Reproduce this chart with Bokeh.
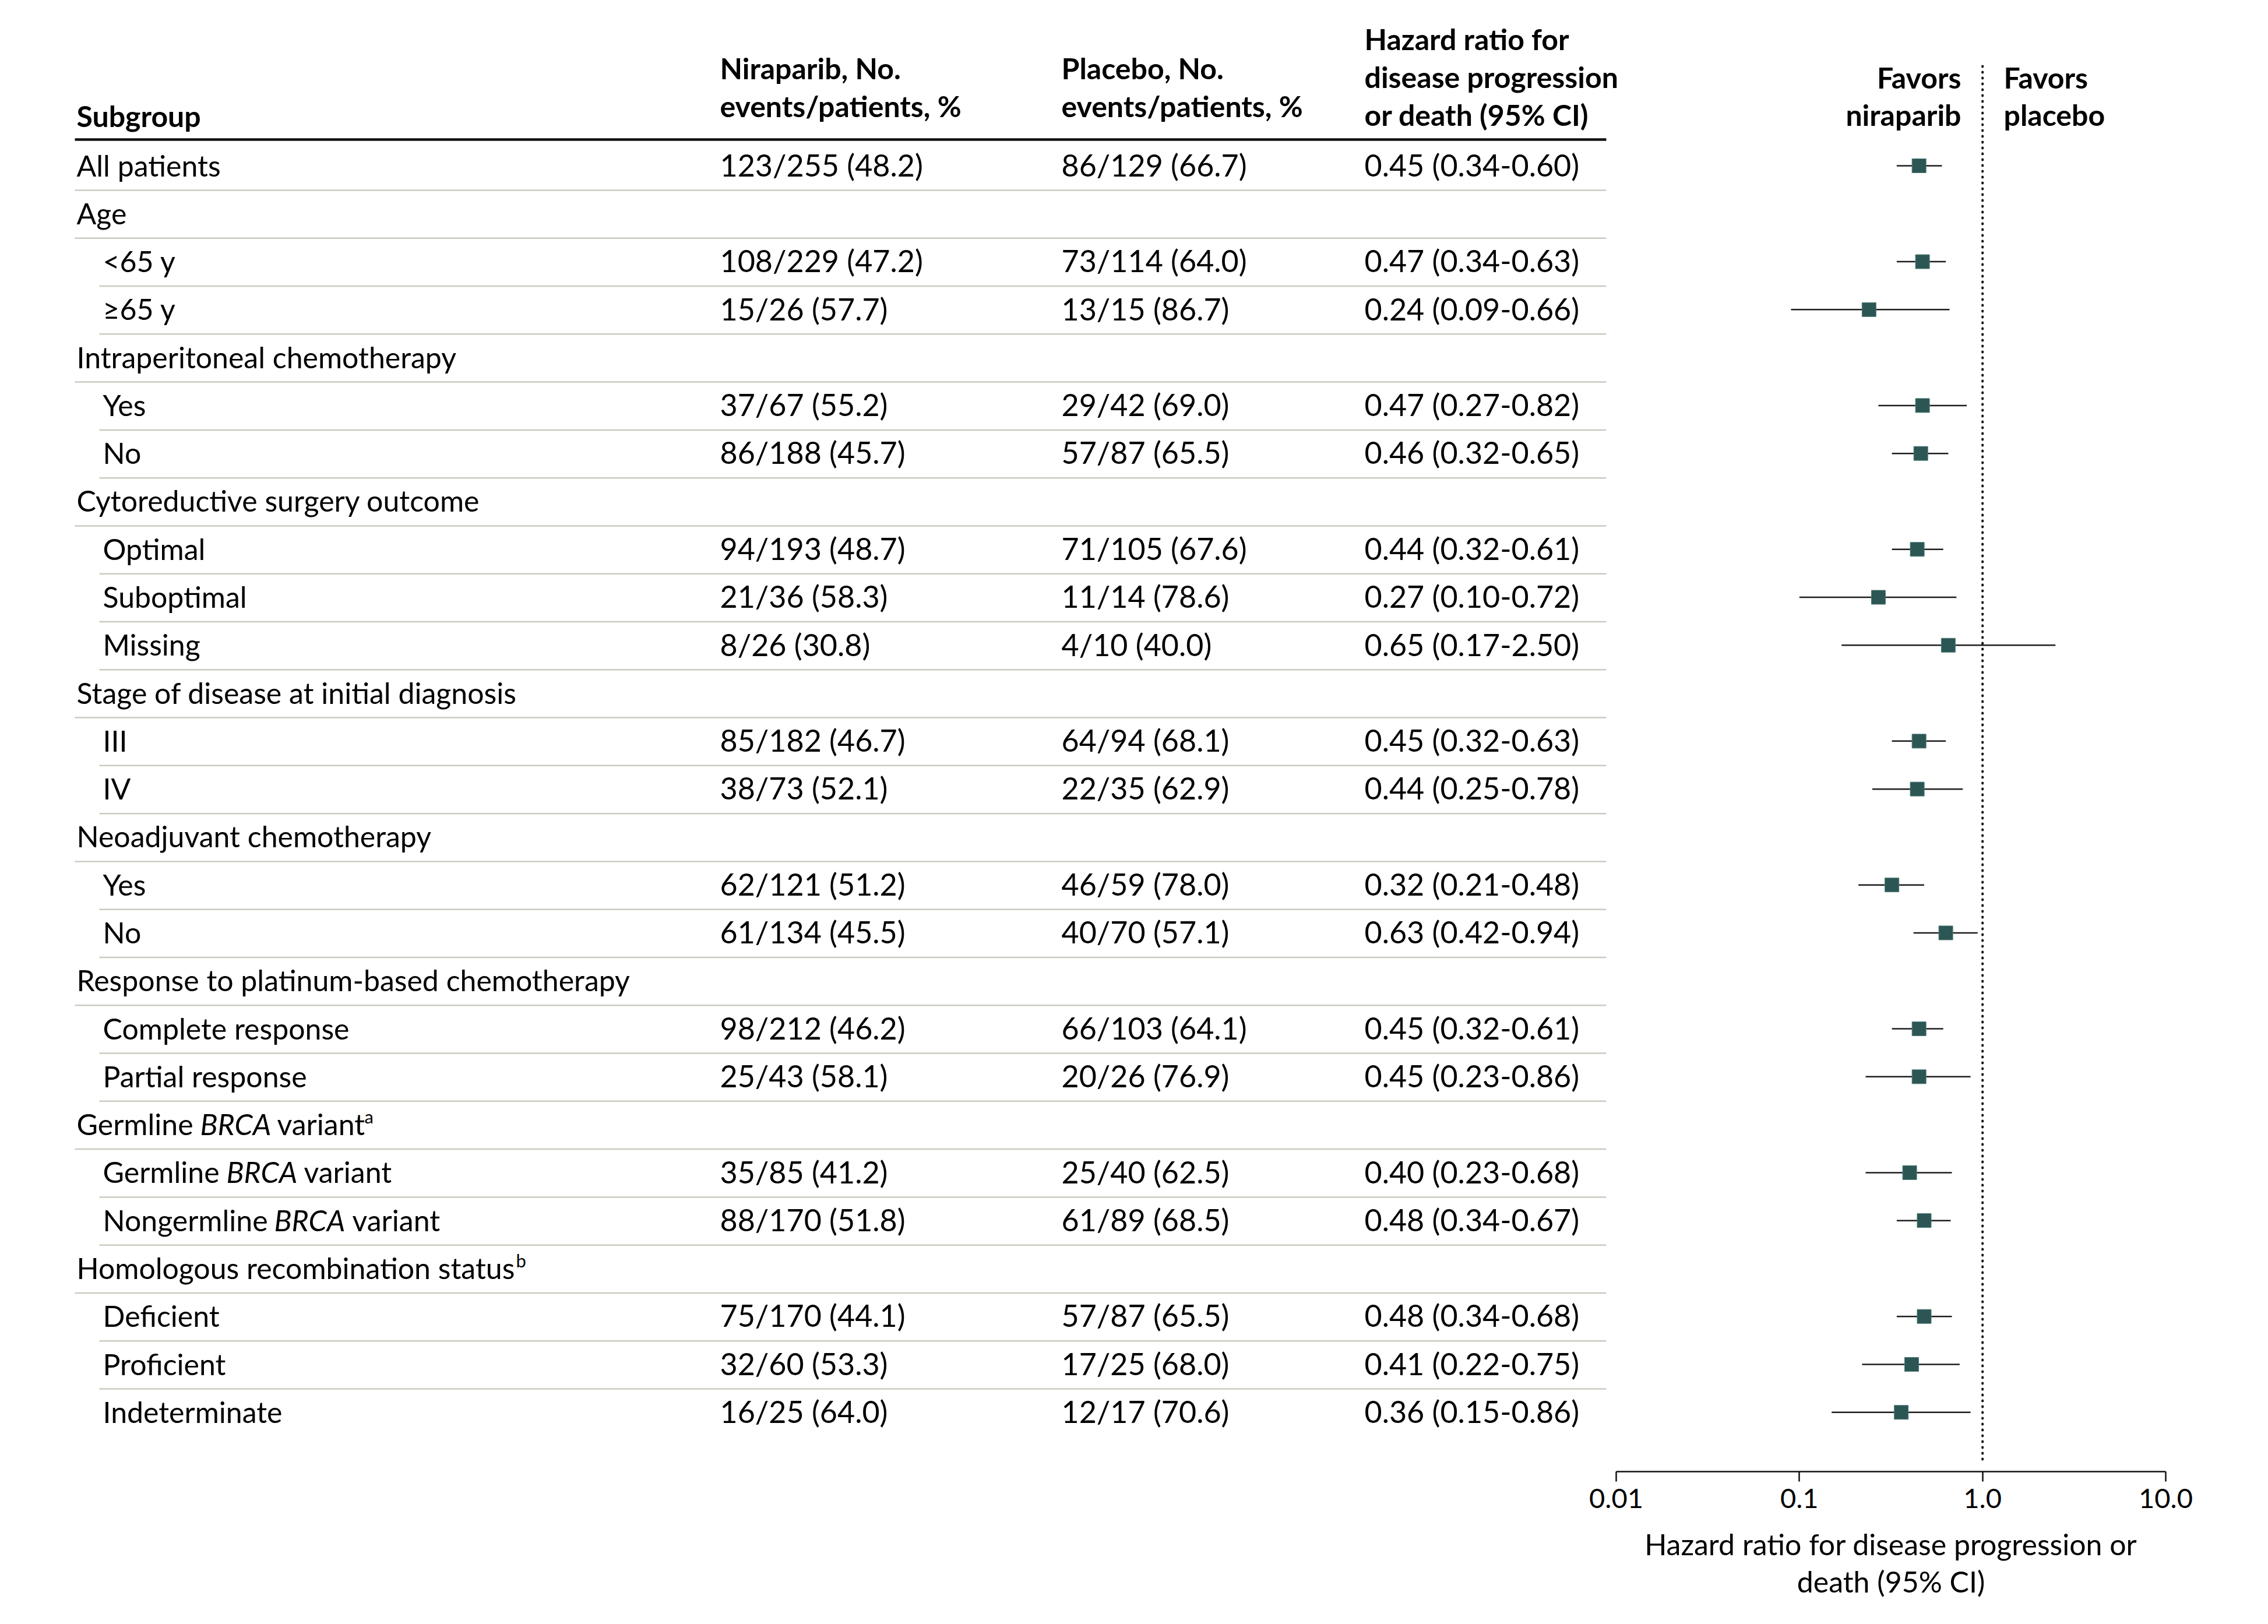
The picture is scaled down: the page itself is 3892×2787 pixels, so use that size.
from bokeh.plotting import figure
from bokeh.models import Range1d, LogScale, LogAxis, FixedTicker, ColumnDataSource
from bokeh.core.properties import value
from bokeh.embed import file_html
from bokeh.resources import INLINE

# ---------------- data ----------------
subgroups = ["All patients", "Age", "<65 y", "≥65 y",
             "Intraperitoneal chemotherapy", "Yes", "No",
             "Cytoreductive surgery outcome", "Optimal", "Suboptimal", "Missing",
             "Stage of disease at initial diagnosis", "III", "IV",
             "Neoadjuvant chemotherapy", "Yes", "No",
             "Response to platinum-based chemotherapy", "Complete response", "Partial response",
             "Germline BRCA variant", "Germline BRCA variant", "Nongermline BRCA variant",
             "Homologous recombination status", "Deficient", "Proficient", "Indeterminate"]
is_header = [False, True, False, False, True, False, False, True, False, False, False,
             True, False, False, True, False, False, True, False, False,
             True, False, False, True, False, False, False]
nir_events = [123, None, 108, 15, None, 37, 86, None, 94, 21, 8, None, 85, 38, None, 62, 61,
              None, 98, 25, None, 35, 88, None, 75, 32, 16]
nir_patients = [255, None, 229, 26, None, 67, 188, None, 193, 36, 26, None, 182, 73, None, 121, 134,
                None, 212, 43, None, 85, 170, None, 170, 60, 25]
nir_pct = [48.2, None, 47.2, 57.7, None, 55.2, 45.7, None, 48.7, 58.3, 30.8, None, 46.7, 52.1, None,
           51.2, 45.5, None, 46.2, 58.1, None, 41.2, 51.8, None, 44.1, 53.3, 64.0]
pla_events = [86, None, 73, 13, None, 29, 57, None, 71, 11, 4, None, 64, 22, None, 46, 40,
              None, 66, 20, None, 25, 61, None, 57, 17, 12]
pla_patients = [129, None, 114, 15, None, 42, 87, None, 105, 14, 10, None, 94, 35, None, 59, 70,
                None, 103, 26, None, 40, 89, None, 87, 25, 17]
pla_pct = [66.7, None, 64.0, 86.7, None, 69.0, 65.5, None, 67.6, 78.6, 40.0, None, 68.1, 62.9, None,
           78.0, 57.1, None, 64.1, 76.9, None, 62.5, 68.5, None, 65.5, 68.0, 70.6]
hr = [0.45, None, 0.47, 0.24, None, 0.47, 0.46, None, 0.44, 0.27, 0.65, None, 0.45, 0.44, None,
      0.32, 0.63, None, 0.45, 0.45, None, 0.40, 0.48, None, 0.48, 0.41, 0.36]
hr_lo = [0.34, None, 0.34, 0.09, None, 0.27, 0.32, None, 0.32, 0.10, 0.17, None, 0.32, 0.25, None,
         0.21, 0.42, None, 0.32, 0.23, None, 0.23, 0.34, None, 0.34, 0.22, 0.15]
hr_hi = [0.60, None, 0.63, 0.66, None, 0.82, 0.65, None, 0.61, 0.72, 2.50, None, 0.63, 0.78, None,
         0.48, 0.94, None, 0.61, 0.86, None, 0.68, 0.67, None, 0.68, 0.75, 0.86]

axis_ticks = [0.01, 0.1, 1.0, 10.0]
axis_tick_labels = ["0.01", "0.1", "1.0", "10.0"]
axis_title = ["Hazard ratio for disease progression or", "death (95% CI)"]

# rows whose label mixes styles: (text, style, x offset, superscript)
rich_labels = {
    20: [("Germline", "normal", 0, False), ("BRCA", "italic", 212, False),
         ("variant", "normal", 344, False), ("a", "normal", 494, True)],
    21: [("Germline", "normal", 0, False), ("BRCA", "italic", 212, False),
         ("variant", "normal", 345, False)],
    22: [("Nongermline", "normal", 0, False), ("BRCA", "italic", 294, False),
         ("variant", "normal", 428, False)],
    23: [("Homologous recombination status", "normal", 0, False), ("b", "normal", 754, True)],
}

# ---------------- layout (page pixels) ----------------
FONT = "Lato"
FS = 50
FS_NUM = 52
TDY = -19            # baseline correction for 50px text
W, H = 3876, 2771
OFF = 0              # page position of the figure's top-left corner
AXIS_Y = 2525
BASE0, PITCH = 302, 82.28
X_CAT, X_SUB, X_NIR, X_PLA, X_HR = 131, 176, 1235, 1821, 2341
XL_FULL, XL_SUB, XL_END = 128, 170, 2756
AX_L, AX_R = 2773, 3716          # page x of 0.01 and 10
TXT = "#000000"
GRID = "#c9ccbf"

dec = (AX_R - AX_L) / 3.0
hr_start = 10 ** (-2 - (AX_L - OFF) / dec)
hr_end = 10 ** (1 + (OFF + W - AX_R) / dec)

p = figure(width=W, height=H, x_range=Range1d(OFF, OFF + W), y_range=Range1d(OFF + H, OFF),
           output_backend="svg", toolbar_location=None,
           x_axis_location=None, y_axis_location=None,
           min_border_left=0, min_border_right=0, min_border_top=0, min_border_bottom=0)
p.extra_x_ranges = {"hr": Range1d(hr_start, hr_end)}
p.extra_x_scales = {"hr": LogScale()}
p.outline_line_color = None
p.grid.visible = False
p.background_fill_color = "white"
p.border_fill_color = "white"

n = len(subgroups)
base = [BASE0 + PITCH * i for i in range(n)]
center = [b - 18 for b in base]


def txt(xs, ys, texts, size=FS, style="normal", align="left", x_range_name="default"):
    src = ColumnDataSource(dict(x=xs, y=ys, t=texts))
    p.text(x="x", y="y", text="t", source=src, text_font=value(FONT), text_font_size=f"{size}px",
           text_font_style=style, text_align=align, text_baseline="alphabetic", text_color=TXT,
           y_offset=TDY * size / 50.0, x_range_name=x_range_name)


# header
txt([X_CAT], [217], ["Subgroup"], style="bold")
txt([X_NIR, X_NIR, X_PLA, X_PLA], [135, 200, 135, 200],
    ["Niraparib, No.", "events/patients, %", "Placebo, No.", "events/patients, %"], style="bold")
txt([X_HR] * 3, [85, 150, 215], ["Hazard ratio for", "disease progression", "or death (95% CI)"], style="bold")
txt([3365, 3365], [151, 215], ["Favors", "niraparib"], style="bold", align="right")
txt([3438, 3438], [151, 215], ["Favors", "placebo"], style="bold", align="left")

# header rule
p.segment(x0=[XL_FULL], x1=[XL_END], y0=[239], y1=[239], line_color="#111111", line_width=4.5)

# row separators
sx0, sy = [], []
for i in range(n - 1):
    full = is_header[i] or i == 0
    sx0.append(XL_FULL if full else XL_SUB)
    sy.append(base[i] + 24)
p.segment(x0=sx0, x1=[XL_END] * len(sy), y0=sy, y1=sy, line_color=GRID, line_width=2.5)

# labels
lx, ly, lt = [], [], []
for i in range(n):
    x0 = X_CAT if (is_header[i] or i == 0) else X_SUB
    if i in rich_labels:
        for t, st, dx, sup in rich_labels[i]:
            if sup:
                txt([x0 + dx], [base[i] - 20], [t], size=31, style=st)
            else:
                txt([x0 + dx], [base[i]], [t], style=st)
    else:
        lx.append(x0); ly.append(base[i]); lt.append(subgroups[i])
txt(lx, ly, lt)

# numeric columns
rows = [i for i in range(n) if hr[i] is not None]
nir_txt = [f"{nir_events[i]}/{nir_patients[i]} ({nir_pct[i]:.1f})" for i in rows]
pla_txt = [f"{pla_events[i]}/{pla_patients[i]} ({pla_pct[i]:.1f})" for i in rows]
hr_txt = [f"{hr[i]:.2f} ({hr_lo[i]:.2f}-{hr_hi[i]:.2f})" for i in rows]
ry = [base[i] for i in rows]
txt([X_NIR] * len(rows), ry, nir_txt, size=FS_NUM)
txt([X_PLA] * len(rows), ry, pla_txt, size=FS_NUM)
txt([X_HR] * len(rows), ry, hr_txt, size=FS_NUM)

# reference line at HR = 1
p.segment(x0=[1.0], x1=[1.0], y0=[113], y1=[2507], x_range_name="hr",
          line_color="#111111", line_width=4, line_dash="1 9", line_cap="round")

# CIs and point estimates
fsrc = ColumnDataSource(dict(
    hr=[hr[i] for i in rows], lo=[hr_lo[i] for i in rows], hi=[hr_hi[i] for i in rows],
    y=[center[i] for i in rows]))
p.segment(x0="lo", x1="hi", y0="y", y1="y", source=fsrc, x_range_name="hr",
          line_color="#1c1c1c", line_width=2.5)
p.scatter(x="hr", y="y", source=fsrc, x_range_name="hr", marker="square", size=24,
          fill_color="#2c5654", line_color="#4d7b77", line_width=1)

# axis (drawn at a fixed position inside the frame)
ax = LogAxis(x_range_name="hr", ticker=FixedTicker(ticks=axis_ticks), bounds=(0.01, 10.0),
             fixed_location=AXIS_Y)
ax.major_label_overrides = {t: l for t, l in zip(axis_ticks, axis_tick_labels)}
ax.minor_tick_line_color = None
ax.major_tick_in = 0
ax.major_tick_out = 17
ax.axis_line_width = 2.5
ax.major_tick_line_width = 2.5
ax.axis_line_color = "#111111"
ax.major_tick_line_color = "#111111"
ax.major_label_text_font = FONT
ax.major_label_text_font_size = "47px"
ax.major_label_text_color = TXT
ax.major_label_standoff = 12
p.add_layout(ax, "below")

# axis title, centred under the axis span
mid = 10 ** ((-2 + 1) / 2)
txt([mid, mid], [2668, 2732], axis_title, align="center", x_range_name="hr")

open("out.html", "w").write(file_html(p, INLINE))
